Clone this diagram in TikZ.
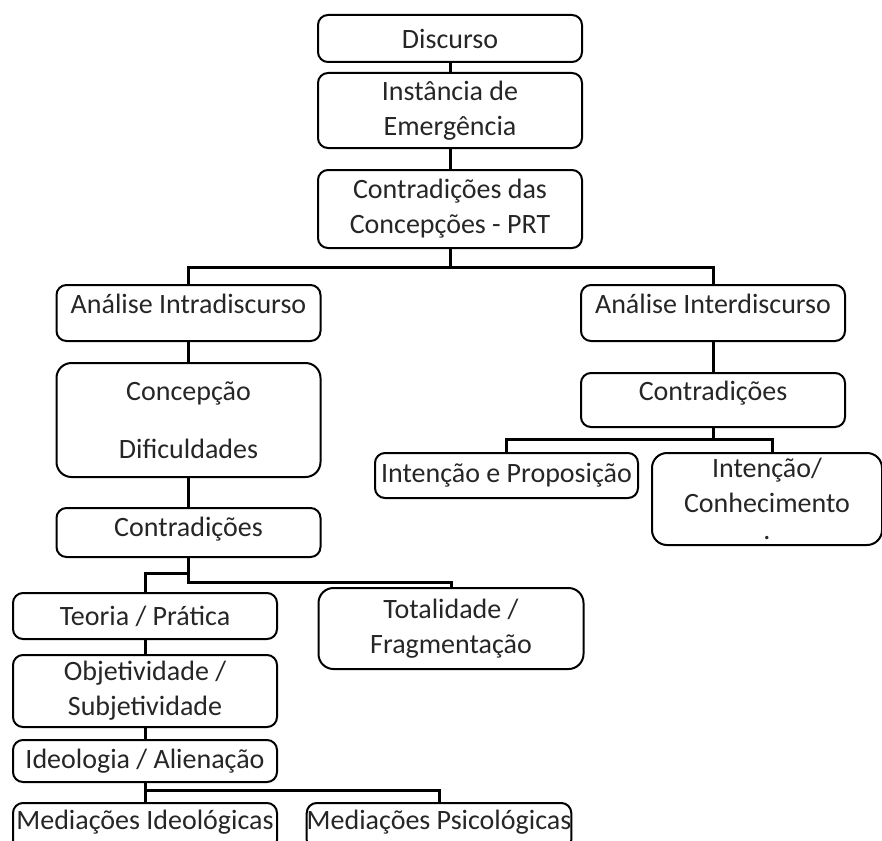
\documentclass[tikz,border=0pt]{standalone}
\usepackage{fontspec}
\setmainfont{Carlito}
\usetikzlibrary{positioning}

\begin{document}
\begin{tikzpicture}[x=1pt,y=-1pt,every node/.style={outer sep=0pt},
 box/.style={draw,line width=2pt,rounded corners=10pt,inner sep=0pt,
 align=center,minimum width=264pt,fill=white,
 font=\fontsize{28}{35}\selectfont,text=black!85},
 lift/.style={text height=20pt,text depth=#1},
 link/.style={line width=3pt}]

  \clip (0,0) rectangle (882,840);

  \node[box,minimum height=47pt] (disc) at (450,38.5) {Discurso};
  \node[box,minimum height=75pt,below=11pt of disc] (inst)
   {Instância de\\Emergência};
  \node[box,minimum height=78pt,below=22pt of inst] (contr)
   {Contradições das\\Concepções - PRT};

  \node[box,minimum height=56pt,lift=20pt] (intra) at (188.5,313)
   {Análise Intradiscurso};
  \node[box,minimum height=114pt,rounded corners=15pt,below=22pt of intra]
   (conc) {Concepção\\[23pt]Dificuldades};
  \node[box,minimum height=49pt,lift=13pt,below=31pt of conc] (contrL)
   {Contradições};

  \node[box,minimum height=56pt,lift=20pt] (inter) at (713,313)
   {Análise Interdiscurso};
  \node[box,minimum height=54pt,lift=20pt,below=32pt of inter] (contrR)
   {Contradições};
  \node[box,minimum height=45pt,minimum width=263pt] (intprop) at (506.5,475.5)
   {Intenção e Proposição};
  \node[box,minimum height=92pt,minimum width=230pt,rounded corners=15pt]
   (intcon) at (767,499) {\rule{0pt}{14pt}Intenção/\\Conhecimento\\[-8pt].};

  \node[box,minimum height=46pt] (teoria) at (145,616) {Teoria / Prática};
  \node[box,minimum height=72pt,below=16pt of teoria] (objet)
   {Objetividade /\\Subjetividade};
  \node[box,minimum height=42pt,below=13pt of objet] (ideol)
   {Ideologia / Alienação};
  \node[box,minimum height=47pt,lift=14pt,below=21pt of ideol] (medI)
   {Mediações Ideológicas};
  \node[box,minimum height=81pt,minimum width=265pt,rounded corners=15pt]
   (total) at (451,628.5) {Totalidade /\\Fragmentação};
  \node[box,minimum height=47pt,minimum width=262pt,lift=14pt] (medP)
   at (439,826.5) {Mediações Psicológicas};

  \foreach \a/\b in {disc/inst,inst/contr,intra/conc,conc/contrL,
   inter/contrR,teoria/objet,objet/ideol,ideol/medI}
   \draw[link] (\a) -- (\b);

  \draw[link] (contr.south) -- ++(0,19) coordinate (aux);
  \draw[link] (intra.north) |- (aux) -| (inter.north);

  \draw[link] (contrR.south) -- ++(0,12) coordinate (aux');
  \draw[link] (intprop.north) |- (aux') -| ([xshift=5pt]intcon.north);

  \draw[link] (contrL.south) -- ++(0,27);
  \draw[link] (contrL.south) ++(0,16) -| (teoria.north);
  \draw[link] (contrL.south) ++(0,25) -| (total.north);

  \draw[link] (ideol.south) ++(0,8) -| (medP.north);

\end{tikzpicture}
\end{document}
